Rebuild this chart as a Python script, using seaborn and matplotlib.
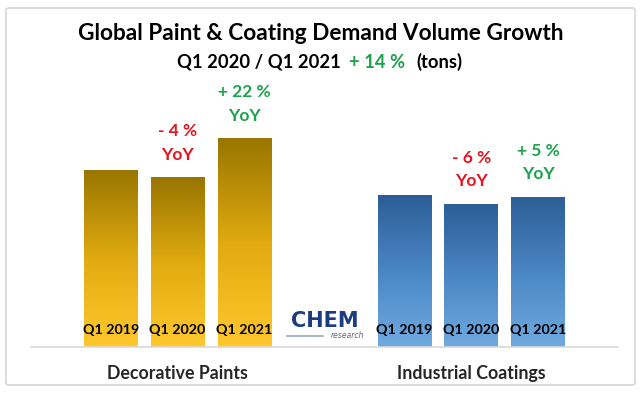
import numpy as np
import pandas as pd
import seaborn as sns
import matplotlib.pyplot as plt
from matplotlib.patches import FancyBboxPatch
from matplotlib.colors import LinearSegmentedColormap

# data (volume index, decorative Q1 2019 = 100)
segments = ['Decorative Paints', 'Industrial Coatings']
quarters = ['Q1 2019', 'Q1 2020', 'Q1 2021']
decorative = [100, 95.8, 117.8]
industrial = [85.7, 80.8, 84.8]
yoy_decorative = [None, '- 4 %', '+ 22 %']
yoy_industrial = [None, '- 6 %', '+ 5 %']

df = pd.DataFrame({
    'segment': np.repeat(segments, len(quarters)),
    'quarter': quarters * len(segments),
    'volume': decorative + industrial,
    'yoy': yoy_decorative + yoy_industrial,
})

sns.set_theme(style='white')
plt.rcParams['font.family'] = ['Lato', 'DejaVu Sans']

RED = '#E2141E'
GREEN = '#1DA24C'
gold = LinearSegmentedColormap.from_list('gold', ['#FFC92E', '#E0AA10', '#987500'])
blue = LinearSegmentedColormap.from_list('blue', ['#70AAE0', '#4A86C4', '#2C5E96'])

fig = plt.figure(figsize=(6.4, 3.95), dpi=100)
W, H = 640, 395
ax = fig.add_axes([30.6 / W, 48 / H, (618 - 30.6) / W, (347 - 70) / H])

sns.barplot(data=df, x='segment', y='volume', hue='quarter', order=segments,
            hue_order=quarters, width=0.6825, gap=0.2, legend=False, ax=ax,
            palette=['#cccccc'] * 3, saturation=1)

# gradient fill for every bar, clipped to the bar
bars = sorted(ax.patches, key=lambda p: p.get_x())
grad = np.linspace(0, 1, 256).reshape(-1, 1)
for bar, (_, row) in zip(bars, df.iterrows()):
    x0, w, h = bar.get_x(), bar.get_width(), bar.get_height()
    cmap = gold if row['segment'] == segments[0] else blue
    im = ax.imshow(grad, extent=[x0, x0 + w, 0, h], origin='lower', cmap=cmap,
                   aspect='auto', zorder=2)
    im.set_clip_path(bar)
    bar.set_facecolor('none')
    bar.set_edgecolor('none')
    xc = x0 + w / 2
    ax.annotate(row['quarter'], xy=(xc, 0), xytext=(0, 12.2), textcoords='offset points',
                ha='center', va='center', fontsize=10.3, fontweight='bold', color='black', zorder=3)
    if row['yoy']:
        c = GREEN if row['yoy'].startswith('+') else RED
        ax.annotate(row['yoy'], xy=(xc, h), xytext=(0, 33), textcoords='offset points',
                    ha='center', va='center', fontsize=12.5, fontweight='bold', color=c)
        ax.annotate('YoY', xy=(xc, h), xytext=(0, 16), textcoords='offset points',
                    ha='center', va='center', fontsize=12.5, fontweight='bold', color=c)

ax.set_xlim(-0.5, 1.5)
ax.set_ylim(0, 156.1)
ax.set_xlabel('')
ax.set_ylabel('')
ax.set_yticks([])
ax.tick_params(axis='x', length=0, pad=13, labelsize=12.8)
for lab in ax.get_xticklabels():
    lab.set_fontweight('bold')
for s in ['top', 'left', 'right']:
    ax.spines[s].set_visible(False)
ax.spines['bottom'].set_color('#D9D9D9')
ax.spines['bottom'].set_linewidth(1.2)

# titles
fig.text(321 / W, 1 - 33 / H, 'Global Paint & Coating Demand Volume Growth',
         ha='center', va='center', fontsize=16.3, fontweight='bold', color='black')
fig.text(177 / W, 1 - 62 / H, 'Q1 2020 / Q1 2021', ha='left', va='center',
         fontsize=13.2, fontweight='bold', color='black')
fig.text(349 / W, 1 - 62 / H, '+ 14 %', ha='left', va='center',
         fontsize=13.2, fontweight='bold', color=GREEN)
fig.text(416 / W, 1 - 62 / H, '(tons)', ha='left', va='center',
         fontsize=13.2, fontweight='bold', color='black')

# logo
fig.text(325 / W, 1 - 321 / H, 'CHEM', ha='center', va='center', fontsize=15,
         family='DejaVu Sans', fontweight='bold', color='#1B3C7E')
fig.text(364 / W, 1 - 336 / H, 'research', ha='right', va='center', fontsize=5.5,
         style='italic', family='DejaVu Sans', color='#5A6680')
fig.add_artist(plt.Line2D([287 / W, 323 / W], [1 - 336 / H, 1 - 336 / H],
                          color='#B0B6C0', lw=1.5, transform=fig.transFigure))

# outer frame
fig.add_artist(FancyBboxPatch((6 / W, 10 / H), 629 / W, 377 / H,
                              boxstyle='round,pad=0,rounding_size=0.005',
                              transform=fig.transFigure, fill=False,
                              edgecolor='#D6D6D6', lw=1.2))

fig.savefig('out.png', dpi=100)
